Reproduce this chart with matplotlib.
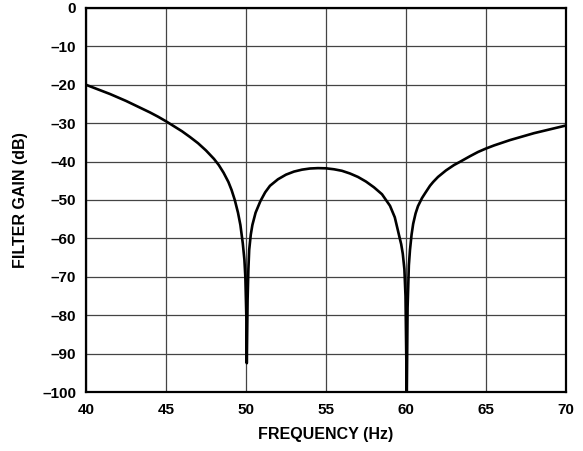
import numpy as np
import matplotlib
matplotlib.use("Agg")
import matplotlib.pyplot as plt

plt.rcParams['font.family'] = ['Liberation Sans', 'DejaVu Sans']
plt.rcParams['font.weight'] = 'bold'

# frequency (Hz) and gain (dB)
freq = [40, 40.5, 41, 41.5, 42, 42.5, 43, 43.5, 44, 44.5, 45, 45.5, 46, 46.5,
        47, 47.5, 48, 48.3, 48.6, 48.9, 49.1, 49.3, 49.5, 49.65, 49.8, 49.9,
        49.96, 50.02, 50.05,
        50.1, 50.15, 50.2, 50.3, 50.4, 50.6, 50.9, 51.2, 51.5, 52, 52.5, 53,
        53.5, 54, 54.5, 55, 55.5, 56, 56.5, 57, 57.5, 58, 58.5, 59, 59.3, 59.5,
        59.6, 59.7, 59.8, 59.9, 59.97, 60.05,
        60.1, 60.18, 60.25, 60.35, 60.45, 60.6, 60.75, 61, 61.2, 61.5, 61.7,
        62, 62.5, 63, 63.4, 64, 64.5, 65, 65.5, 66, 66.5, 67, 67.5, 68, 68.5,
        69, 69.5, 70]
gain = [-20, -20.8, -21.6, -22.4, -23.3, -24.2, -25.2, -26.2, -27.2, -28.3,
        -29.5, -30.8, -32.1, -33.6, -35.2, -37.1, -39.3, -40.9, -42.9, -45.3,
        -47.4, -50, -53.3, -56.5, -61.3, -65.5, -70, -80, -92.5,
        -76, -68, -63, -59, -56.5, -53.3, -50.3, -48, -46.3, -44.6, -43.4,
        -42.6, -42.1, -41.8, -41.7, -41.75, -42, -42.4, -43.1, -44, -45.2,
        -46.7, -48.5, -51.5, -54.5, -58, -59.8, -61.5, -64, -68, -75, -101,
        -78, -67, -63, -59, -56.2, -53.5, -51.6, -49.5, -48.2, -46.3, -45.3,
        -44, -42.3, -40.9, -40, -38.6, -37.5, -36.6, -35.8, -35.1, -34.4,
        -33.8, -33.2, -32.6, -32.1, -31.6, -31.1, -30.6]

xticks = [40, 45, 50, 55, 60, 65, 70]
yticks = list(range(0, -101, -10))
ylabels = ['0'] + ['\u2013%d' % -v for v in yticks[1:]]

fig = plt.figure(figsize=(5.83, 4.51), dpi=100)
ax = fig.add_axes([0.1475, 0.1308, 0.8233, 0.8515])

ax.plot(freq, gain, color='black', lw=1.9, solid_joinstyle='round')

ax.set_xlim(40, 70)
ax.set_ylim(-100, 0)
ax.set_xticks(xticks)
ax.set_yticks(yticks)
ax.set_yticklabels(ylabels)
ax.grid(True, color='#444444', lw=0.9)
ax.set_axisbelow(True)
ax.tick_params(length=0, labelsize=11, pad=7)
ax.tick_params(axis='x', pad=8)
for s in ax.spines.values():
    s.set_linewidth(1.6)

ax.set_xlabel('FREQUENCY (Hz)', fontsize=11.5, fontweight='bold', labelpad=7)
ax.set_ylabel('FILTER GAIN (dB)', fontsize=11.5, fontweight='bold', labelpad=10)

fig.savefig('out.png', dpi=100)
